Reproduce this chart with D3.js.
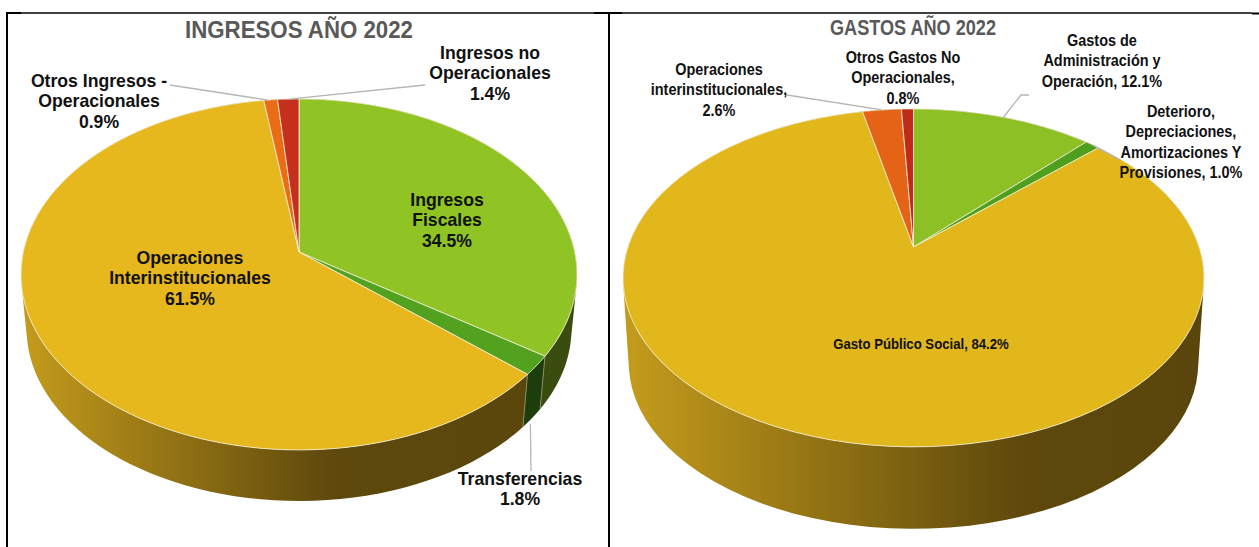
<!DOCTYPE html>
<html>
<head>
<meta charset="utf-8">
<script src="https://cdn.jsdelivr.net/npm/d3@7"></script>
<style>
html, body { margin: 0; padding: 0; background: #fff; overflow: hidden; }
text { font-family: "Liberation Sans", Arial, sans-serif; font-weight: bold; fill: #111; text-anchor: middle; }
</style>
</head>
<body>
<div id="chart"></div>
<script>
// ingresos pie data
var ingresosNames = ["Ingresos Fiscales", "Transferencias", "Operaciones Interinstitucionales", "Otros Ingresos - Operacionales", "Ingresos no Operacionales"]
var ingresosValues = [34.5, 1.8, 61.5, 0.9, 1.4]
var ingresosColors = ["#8fc424", "#52a11f", "#e6b81e", "#ea6c16", "#c62f1b"]
var ingresosSides = ["#3a4d0e", "#1d3d0c", "gold", "gold", "gold"]
var ingresosLines = [["Ingresos", "Fiscales", "34.5%"], ["Transferencias", "1.8%"], ["Operaciones", "Interinstitucionales", "61.5%"], ["Otros Ingresos -", "Operacionales", "0.9%"], ["Ingresos no", "Operacionales", "1.4%"]]

// gastos pie data
var gastosNames = ["Gastos de Administración y Operación", "Deterioro, Depreciaciones, Amortizaciones Y Provisiones", "Gasto Público Social", "Operaciones interinstitucionales", "Otros Gastos No Operacionales"]
var gastosValues = [12.1, 1.0, 84.2, 2.6, 0.8]
var gastosColors = ["#8cc024", "#4f9f1f", "#e2b71c", "#e46316", "#c02a18"]
var gastosSides = ["#3a4d0e", "#1d3d0c", "gold", "gold", "gold"]
var gastosLines = [["Gastos de", "Administración y", "Operación, 12.1%"], ["Deterioro,", "Depreciaciones,", "Amortizaciones Y", "Provisiones, 1.0%"], ["Gasto Público Social, 84.2%"], ["Operaciones", "interinstitucionales,", "2.6%"], ["Otros Gastos No", "Operacionales,", "0.8%"]]

var svg = d3.select("#chart")
  .append("svg")
    .attr("width", 1259)
    .attr("height", 547)

// frame around the two panels
var frame = [
  [6, 13, 21, 13, 2], [21, 13, 594, 13, 1.3], [594, 13, 622, 13, 2], [622, 13, 1252, 13, 1.3], [1252, 13.5, 1259, 13.5, 2],
  [7, 12, 7, 547, 2], [609, 13, 609, 547, 2]
]
svg.selectAll("line.frame")
  .data(frame)
  .enter()
  .append("line")
    .attr("class", "frame")
    .attr("x1", function(d) { return d[0]; })
    .attr("y1", function(d) { return d[1]; })
    .attr("x2", function(d) { return d[2]; })
    .attr("y2", function(d) { return d[3]; })
    .attr("stroke", "#000")
    .attr("stroke-width", function(d) { return d[4]; })

var defs = svg.append("defs")

function drawPie(opt) {
  var g = svg.append("g")

  // gradient on the yellow wall
  var gradId = opt.id + "-wall"
  var grad = defs.append("linearGradient")
    .attr("id", gradId)
    .attr("gradientUnits", "userSpaceOnUse")
    .attr("x1", opt.cx - opt.rx).attr("y1", 0)
    .attr("x2", opt.cx + opt.rx).attr("y2", 0)
  grad.append("stop").attr("offset", "0").attr("stop-color", "#c39b1c")
  grad.append("stop").attr("offset", opt.gradStop).attr("stop-color", "#5e480c")
  grad.append("stop").attr("offset", "1").attr("stop-color", "#5a460c")

  var xScale = d3.scaleLinear().domain([-1, 1]).range([opt.cx - opt.rx, opt.cx + opt.rx])
  var yScale = d3.scaleLinear().domain([-1, 1]).range([opt.cy - opt.ry, opt.cy + opt.ry])

  // circle seen in perspective, angle clockwise from the top
  function project(a, s, dy) {
    var u = Math.sin(a), v = -Math.cos(a)
    var w = 1 - opt.k * v
    return [xScale(s * u / w), yScale(s * v / w) + dy]
  }

  var arcs = d3.pie().sort(null)(opt.values)

  function steps(d) {
    return d3.range(0, 1.0001, 1 / 90).map(function(t) {
      return d.startAngle + t * (d.endAngle - d.startAngle)
    })
  }

  var line = d3.line()

  // walls first, the top covers the back half. small quads so the outline fills out
  g.selectAll("path.wall")
    .data(arcs)
    .enter()
    .append("path")
      .attr("class", "wall")
      .attr("d", function(d) {
        var a = steps(d)
        var out = ""
        for (var i = 0; i < a.length - 1; i++) {
          var quad = [project(a[i], 1, 0), project(a[i + 1], 1, 0), project(a[i + 1], opt.shrink, opt.depth), project(a[i], opt.shrink, opt.depth)]
          // keep every quad the same way round or the overlaps cancel
          if (d3.polygonArea(quad) < 0) quad.reverse()
          out += line(quad) + "Z"
        }
        return out
      })
      .attr("fill", function(d, i) { return opt.sides[i] == "gold" ? "url(#" + gradId + ")" : opt.sides[i]; })

  // thin light seams on the green walls
  g.selectAll("path.seam")
    .data(arcs.filter(function(d, i) { return opt.sides[i] != "gold" }))
    .enter()
    .append("path")
      .attr("class", "seam")
      .attr("d", function(d) {
        return line([project(d.endAngle, 1, 0), project(d.endAngle, opt.shrink, opt.depth)])
      })
      .attr("stroke", "#8a8a60")
      .attr("stroke-width", 1)
      .attr("fill", "none")

  // top of the pie
  g.selectAll("path.top")
    .data(arcs)
    .enter()
    .append("path")
      .attr("class", "top")
      .attr("d", function(d) {
        var pts = steps(d).map(function(t) { return project(t, 1, 0); })
        return line([[xScale(0), yScale(0)]].concat(pts)) + "Z"
      })
      .attr("fill", function(d, i) { return opt.colors[i]; })
      .attr("stroke", "#f4f0d8")
      .attr("stroke-width", 0.8)

  // leader lines, from slice edge to the label
  opt.leaders.forEach(function(l) {
    var d = arcs[l.slice]
    var a = d.startAngle + (d.endAngle - d.startAngle) * l.at
    var start = project(a, 1, l.dy || 0)
    g.append("path")
      .attr("d", line([start].concat(l.to)))
      .attr("fill", "none")
      .attr("stroke", "#b5b5b5")
      .attr("stroke-width", 1.3)
  })

  // title
  g.append("text")
    .attr("x", opt.titleX)
    .attr("y", opt.titleY)
    .attr("font-size", opt.titleSize)
    .attr("textLength", opt.titleLen)
    .attr("lengthAdjust", "spacingAndGlyphs")
    .style("fill", "#595959")
    .text(opt.title)

  // data labels
  opt.labels.forEach(function(pos, i) {
    var t = g.append("g")
    opt.lines[i].forEach(function(s, j) {
      t.append("text")
        .attr("x", pos[0])
        .attr("y", pos[1] + j * pos[2])
        .attr("font-size", pos[3])
        .attr("transform", "translate(" + pos[0] + ",0) scale(" + pos[4] + ",1) translate(" + (-pos[0]) + ",0)")
        .text(s)
    })
  })
}

drawPie({
  id: "ingresos", title: "INGRESOS AÑO 2022", titleX: 299, titleY: 38, titleSize: 23, titleLen: 228,
  values: ingresosValues, colors: ingresosColors, sides: ingresosSides, lines: ingresosLines,
  cx: 299, cy: 252, rx: 275.7, ry: 172.6, k: 0.128, shrink: 0.98, depth: 55, gradStop: 0.56,
  labels: [[447, 206, 20.5, 18, 0.98], [520, 485, 20.5, 18, 0.98], [190, 264, 20.5, 18, 0.98], [99, 87, 20.5, 18, 0.98], [490, 59, 20.5, 18, 0.98]],
  leaders: [
    {slice: 4, at: 0.55, to: [[425, 85]]},
    {slice: 3, at: 0.3, to: [[170, 85]]},
    {slice: 1, at: 0.85, dy: 52, to: [[531, 471]]}
  ]
})

drawPie({
  id: "gastos", title: "GASTOS AÑO 2022", titleX: 913, titleY: 35, titleSize: 22, titleLen: 166,
  values: gastosValues, colors: gastosColors, sides: gastosSides, lines: gastosLines,
  cx: 913.5, cy: 247, rx: 285.6, ry: 163.3, k: 0.183, shrink: 0.98, depth: 86, gradStop: 0.69,
  labels: [[1102, 46, 20.5, 17, 0.85], [1181, 117, 20.5, 17, 0.85], [921, 349, 20, 15.5, 0.85], [719, 75, 20.5, 17, 0.85], [903, 63, 20.5, 17, 0.85]],
  leaders: [
    {slice: 0, at: 0.5, to: [[1021, 95], [1029, 95]]},
    {slice: 1, at: 0.5, to: [[1120, 160]]},
    {slice: 3, at: 0.5, to: [[787, 95]]}
  ]
})
</script>
</body>
</html>
